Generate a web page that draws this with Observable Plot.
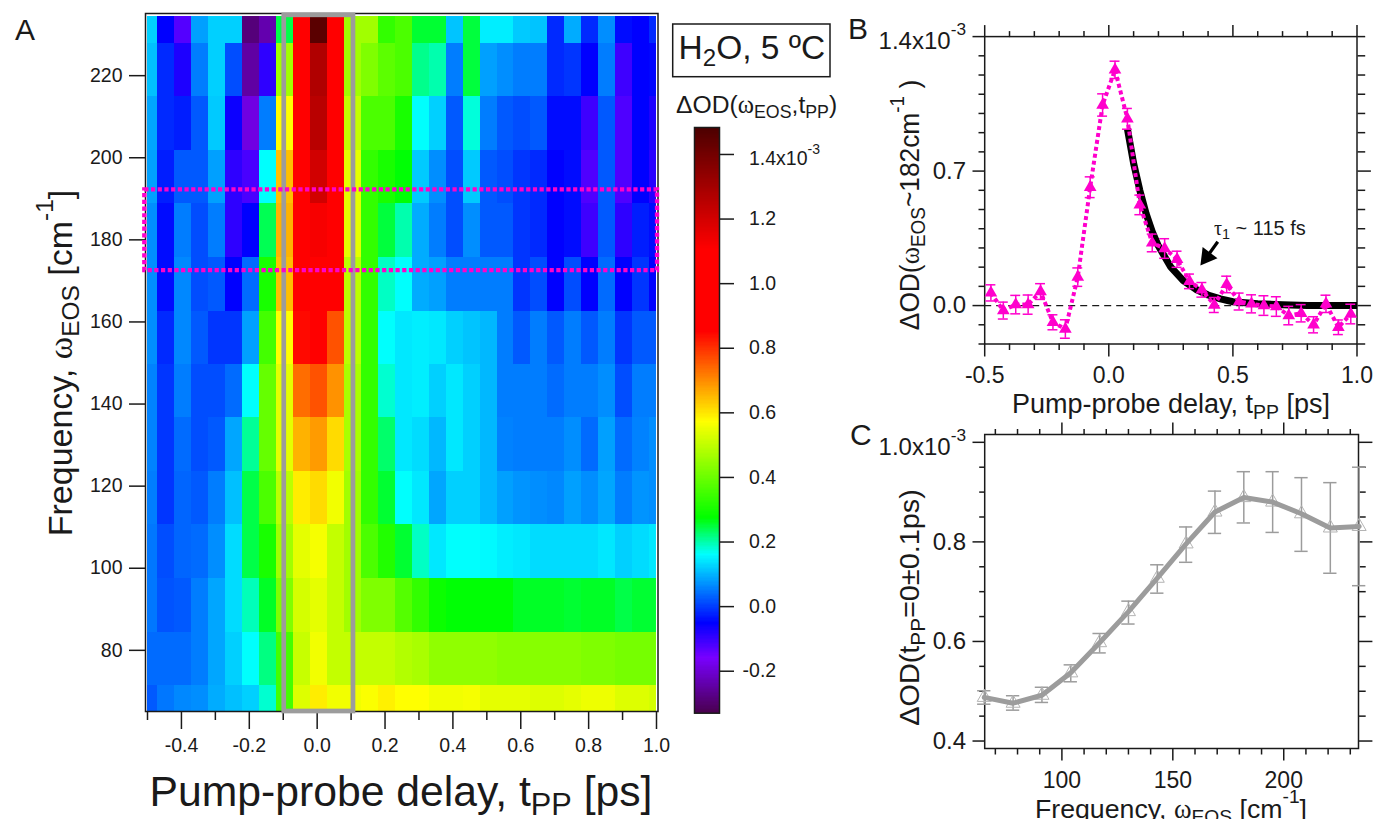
<!DOCTYPE html>
<html><head><meta charset="utf-8">
<script src="https://cdn.jsdelivr.net/npm/d3@7"></script>
<script src="https://cdn.jsdelivr.net/npm/@observablehq/plot@0.6"></script>
<style>
html,body{margin:0;padding:0;background:#fff;}
#page{position:relative;width:1376px;height:819px;overflow:hidden;background:#fff;}
#page svg{position:absolute;max-width:none;overflow:visible;}
</style></head><body><div id="page"></div>
<script>
// ---------- Panel A data (delay edges, frequency edges, one row per frequency, 1e-3 OD) ----------
const delayEdges=[-0.5,-0.47,-0.42,-0.37,-0.32,-0.27,-0.22,-0.17,-0.12,-0.07,-0.02,0.03,0.08,0.13,0.18,0.23,0.28,0.33,0.38,0.43,0.48,0.53,0.58,0.63,0.68,0.73,0.78,0.83,0.88,0.93,0.98,1.0];
const freqEdges=[234.4,227.8,214.9,201.7,188.8,175.7,162.5,149.6,136.7,123.6,110.7,97.5,84.4,71.5,65.1];
const row234=[.12,-.054,-.13,.08,.12,.12,-.29,-.24,.24,.95,1.45,1.0,.46,.46,.33,.36,.25,.25,.11,.245,.145,.145,.115,.11,-.02,.09,-.02,.065,-.045,-.054,-.02];
const row221=[.106,-.02,-.08,.05,.12,.01,-.25,-.095,.46,.95,1.27,1.0,.46,.42,.38,.36,.21,.195,.05,.245,.08,.065,.05,.05,-.02,-.01,-.054,.05,-.11,-.054,-.05];
const row208=[.085,-.02,-.03,.02,.115,-.065,-.19,.05,.57,.95,1.25,1.0,.50,.36,.36,.30,.16,.12,.02,.175,.05,.02,.01,.02,-.045,-.045,-.11,.02,-.125,-.054,-.08];
const row195=[.08,-.03,.02,.02,.08,-.095,-.12,.16,.64,.95,1.2,1.0,.54,.33,.30,.27,.115,.065,.01,.115,.02,.01,-.01,-.02,-.054,-.045,-.125,.02,-.125,-.054,-.09];
const row182=[.065,-.045,.05,.01,.05,-.095,-.054,.235,.655,.92,1.12,1.0,.54,.33,.245,.195,.09,.05,.01,.065,.02,.02,-.01,-.02,-.054,-.045,-.11,.02,-.095,-.03,-.045];
const row169=[.065,-.045,.06,.01,.02,-.054,.035,.30,.64,.95,1.0,.92,.49,.33,.185,.16,.09,.08,.05,.05,.05,.05,-.01,.01,-.054,.01,-.054,.035,-.054,-.01,-.054];
const row156=[.065,-.02,.06,.02,-.01,-.01,.08,.35,.57,.84,.90,.76,.49,.33,.16,.14,.145,.14,.12,.11,.10,.05,.02,.05,.02,.05,.02,.05,-.01,.02,.02];
const row143=[.055,-.01,.05,.01,.01,.035,.16,.39,.54,.73,.76,.69,.47,.33,.18,.14,.145,.12,.14,.12,.10,.05,.05,.05,.035,.05,.05,.065,.01,.05,.05];
const row130=[.055,-.01,.035,.01,.02,.085,.205,.39,.54,.655,.68,.61,.47,.33,.225,.14,.13,.10,.14,.12,.10,.055,.05,.05,.05,.065,.035,.08,.035,.055,.065];
const row117=[.05,-.01,.03,.02,.05,.106,.24,.36,.49,.59,.61,.555,.46,.33,.25,.16,.14,.085,.12,.12,.10,.08,.07,.065,.06,.08,.065,.085,.05,.07,.065];
const row104=[.045,.01,.03,.035,.065,.13,.24,.30,.46,.54,.56,.50,.46,.36,.31,.25,.185,.14,.16,.16,.155,.145,.14,.13,.13,.13,.13,.14,.12,.13,.14];
const row91=[.045,.015,.02,.05,.085,.13,.19,.255,.42,.52,.54,.50,.46,.42,.42,.37,.33,.285,.27,.27,.27,.27,.255,.255,.255,.25,.255,.255,.24,.25,.25];
const row78=[.035,.035,.035,.05,.085,.12,.16,.215,.35,.505,.555,.50,.50,.50,.50,.48,.47,.44,.44,.44,.44,.43,.43,.43,.43,.43,.42,.42,.41,.41,.41];
const row65=[.02,.045,.06,.065,.09,.106,.12,.18,.35,.53,.59,.555,.555,.565,.585,.57,.57,.555,.555,.56,.54,.54,.54,.53,.53,.54,.55,.55,.53,.53,.52];
const rows=[row234,row221,row208,row195,row182,row169,row156,row143,row130,row117,row104,row91,row78,row65];
// colour scale stops
const cStops=[-0.33,-0.162,-0.054,0.159,0.272,0.57,0.85,1.103,1.4835];
const cColors=["#4a0050","#7800ff","#0000ff","#00ffff","#00ff00","#ffff00","#ff0000","#ff0000","#4a0000"];
// gate boxes
const gateDelay=[-0.097,0.107], gateFreq=[65.1,234.7];
const bandDelay=[-0.508,1.003], bandFreq=[172.5,192.2];
// ---------- Panel B data ----------
const tB=[-.475,-.425,-.375,-.325,-.275,-.225,-.175,-.125,-.075,-.025,.025,.075,.125,.175,.225,.275,.325,.375,.425,.475,.525,.575,.625,.675,.725,.775,.825,.875,.925,.975];
const odB=[.066,-.026,.005,.005,.073,-.087,-.122,.148,.616,1.044,1.227,.972,.524,.326,.297,.241,.126,.082,.003,.11,.021,.009,0,-.005,-.052,-.04,-.10,.009,-.113,-.044];
const errB=[.042,.044,.048,.05,.041,.039,.048,.048,.054,.058,.045,.054,.051,.046,.051,.042,.038,.038,.039,.043,.044,.047,.051,.051,.048,.045,.042,.045,.038,.051];
const fitT=[.075,.1,.125,.15,.175,.2,.25,.3,.35,.4,.45,.5,.6,.7,.8,.9,1.0];
const fitOD=[.92,.74,.60,.48,.385,.31,.20,.13,.085,.055,.035,.02,.0095,.004,.001,0,0];
const arrowTail=[.439,.332], arrowHead=[.395,.253];
// ---------- Panel C data ----------
const fC=[65,78,91,104,117,130,143,156,169,182,195,208,221,234];
const odC=[.4877,.476,.492,.537,.5976,.66,.727,.796,.86,.889,.88,.8565,.828,.831];
const hiC=[.501,.491,.508,.553,.616,.681,.754,.83,.902,.941,.941,.929,.919,.95];
const loC=[.474,.462,.4775,.519,.577,.635,.697,.759,.817,.838,.819,.781,.737,.712];
// ticks
const aXMajor=[-.4,-.2,0,.2,.4,.6,.8,1], aXMinor=[-.5,-.3,-.1,.1,.3,.5,.7,.9], aYTicks=[80,100,120,140,160,180,200,220];
const bXMajor=[-.5,0,.5,1], bXMinor=[-.4,-.3,-.2,-.1,.1,.2,.3,.4,.6,.7,.8,.9];
const bYMajor=[0,.7,1.4], bYMinor=[-.2,-.1,.1,.2,.3,.4,.5,.6,.8,.9,1,1.1,1.2,1.3];
const cXMajor=[100,150,200], cXMinor=[70,80,90,110,120,130,140,160,170,180,190,210,220,230];
const cYMajor=[.4,.6,.8,1], cYMinor=[.45,.5,.55,.65,.7,.75,.85,.9,.95];
const barTicks=[-.2,0,.2,.4,.6,.8,1,1.2,1.4];

const PINK="#ff00cc", GREY="#9c9c9c", INK="#1a1a1a";
const SANS="'Liberation Sans',Arial,sans-serif", SERIF="'Liberation Serif',serif";
const fmt=d=>d.toFixed(1), fmt0=d=>String(d), none=()=>"";
const colorOpts={type:"linear",domain:cStops,range:cColors,interpolate:"rgb",clamp:true};
const svgStyle={background:"transparent",overflow:"visible",fontFamily:SANS};

// text helper: parts are [string, kind], kind in sub|sup|g (greek serif)
function label(parent,x,y,parts,size,anchor="start",rot=0,sx=1){
  const t=parent.append("text").attr("transform",`translate(${x},${y}) rotate(${rot}) scale(${sx},1)`)
    .attr("text-anchor",anchor).attr("font-size",size).attr("font-family",SANS).attr("fill",INK);
  let cur=0;
  for(const [s,kind] of parts){
    const target=kind==="sub"?size*.22:kind==="sup"?-size*.55:0;
    const sp=t.append("tspan").attr("dy",target-cur).text(s);
    if(kind==="sub"||kind==="sup") sp.attr("font-size",size*.72);
    if(kind==="g") sp.attr("font-family",SERIF);
    cur=target;
  }
}
function textMark(ox,oy,items,extra){
  return ()=>{
    const g=d3.create("svg:g");
    if(extra) extra(g);
    for(const it of items) label(g,it[0]-ox,it[1]-oy,it[2],it[3],it[4],it[5],it[6]);
    return g.node();
  };
}
function place(plot,ox,oy){plot.style.left=ox+"px";plot.style.top=oy+"px";document.getElementById("page").append(plot);}

// ---------- Panel A ----------
(function(){
  const ox=0,oy=0,W=680,H=819;
  const cells=[];
  rows.forEach((r,j)=>r.forEach((v,i)=>cells.push({x1:delayEdges[i],x2:delayEdges[i+1],y1:freqEdges[j+1],y2:freqEdges[j],v})));
  const p=Plot.plot({width:W,height:H,marginLeft:145,marginRight:W-657.5,marginTop:13,marginBottom:H-711,
    style:svgStyle,
    x:{domain:[-.5,1],range:[147,656],axis:null},y:{domain:[65.1,234.9],range:[711,14],axis:null},color:colorOpts,
    marks:[
      Plot.rect(cells,{x1:"x1",x2:"x2",y1:"y1",y2:"y2",fill:"v",shapeRendering:"crispEdges"}),
      Plot.frame({stroke:INK,strokeWidth:1.5}),
      Plot.axisX({anchor:"bottom",ticks:aXMinor,tickSize:9,tickFormat:none,label:null,strokeWidth:1.5,stroke:INK}),
      Plot.axisX({anchor:"bottom",ticks:aXMajor,tickSize:18,tickPadding:9,tickFormat:fmt,label:null,strokeWidth:1.5,stroke:INK,fontSize:19.5,fontFamily:SANS,fill:INK}),
      Plot.axisY({anchor:"left",ticks:aYTicks,tickSize:16,tickPadding:7,tickFormat:fmt0,label:null,strokeWidth:1.5,stroke:INK,fontSize:19.5,fontFamily:SANS,fill:INK}),
      Plot.rect([0],{x1:()=>gateDelay[0],x2:()=>gateDelay[1],y1:()=>gateFreq[0],y2:()=>gateFreq[1],fill:"none",stroke:GREY,strokeWidth:4.7}),
      Plot.rect([0],{x1:()=>bandDelay[0],x2:()=>bandDelay[1],y1:()=>bandFreq[0],y2:()=>bandFreq[1],fill:"none",stroke:PINK,strokeWidth:4.3,strokeDasharray:"4.2,2.5"}),
      textMark(ox,oy,[
        [15,40,[["A"]],30],
        [401,806,[["Pump-probe delay, t"],["PP","sub"],[" [ps]"]],42.7,"middle"],
        [72,363,[["Frequency, "],["ω","g"],["EOS","sub"],[" [cm"],["-1","sup"],["]"]],34,"middle",-90]
      ])
    ]});
  place(p,ox,oy);
})();

// ---------- Colour bar and sample box ----------
(function(){
  const ox=660,oy=0,W=190,H=730;
  const step=0.004, grad=d3.range(-0.33,1.4835,step).map(v=>({a:v,b:Math.min(v+step*1.2,1.4835)}));
  const p=Plot.plot({width:W,height:H,marginLeft:34,marginRight:W-59,marginTop:127,marginBottom:H-712.7,
    style:svgStyle,
    x:{domain:[0,1],axis:null},y:{domain:[-0.33,1.4835],axis:null},color:colorOpts,
    marks:[
      Plot.rect(grad,{x1:()=>0,x2:()=>1,y1:"a",y2:"b",fill:"a",shapeRendering:"crispEdges"}),
      Plot.frame({stroke:INK,strokeWidth:1.5}),
      Plot.axisY({anchor:"right",ticks:barTicks,tickSize:14,tickFormat:none,label:null,strokeWidth:1.5,stroke:INK}),
      Plot.text(barTicks.filter(d=>d!==1.4),{x:()=>1,y:d=>d,text:fmt,dx:56.7,textAnchor:"end",fontSize:19.5,fontFamily:SANS,fill:INK}),
      textMark(ox,oy,[
        [749,165,[["1.4x10"],["-3","sup"]],19.5],
        [678.5,59,[["H"],["2","sub"],["O, 5 ºC"]],33.5],
        [676,113,[["ΔOD("],["ω","g"],["EOS","sub"],[",t"],["PP","sub"],[")"]],24.7]
      ],g=>g.append("rect").attr("x",672.7-ox).attr("y",24-oy).attr("width",157.3).attr("height",52.7).attr("fill","#fff").attr("stroke",INK).attr("stroke-width",1.5))
    ]});
  place(p,ox,oy);
})();

// ---------- Panel B ----------
(function(){
  const ox=840,oy=0,W=536,H=430;
  const pts=tB.map((t,i)=>({t,v:odB[i],lo:odB[i]-errB[i],hi:odB[i]+errB[i]}));
  const fit=fitT.map((t,i)=>({t,v:fitOD[i]}));
  const tickBase={label:null,strokeWidth:1.5,stroke:INK,tickFormat:none};
  const p=Plot.plot({width:W,height:H,marginLeft:984.2-ox,marginRight:W-(1356.5-ox),marginTop:36.1,marginBottom:H-343.5,
    style:svgStyle,
    x:{domain:[-.5,1],axis:null},y:{domain:[-.2,1.4],axis:null},
    marks:[
      Plot.ruleY([0],{strokeDasharray:"7,5",stroke:INK,strokeWidth:1.3}),
      Plot.frame({stroke:INK,strokeWidth:1.5}),
      Plot.axisX({anchor:"bottom",ticks:bXMinor,tickSize:6.5,...tickBase}),
      Plot.axisX({anchor:"bottom",ticks:bXMajor,tickSize:13,tickPadding:10,...tickBase,tickFormat:fmt,fontSize:23,fontFamily:SANS,fill:INK}),
      Plot.axisX({anchor:"top",ticks:bXMinor,tickSize:6,...tickBase}),
      Plot.axisX({anchor:"top",ticks:bXMajor,tickSize:12,...tickBase}),
      Plot.axisY({anchor:"left",ticks:bYMinor,tickSize:5.7,...tickBase}),
      Plot.axisY({anchor:"left",ticks:bYMajor,tickSize:11.7,tickPadding:7,...tickBase,tickFormat:d=>d===1.4?"":fmt(d),fontSize:24,fontFamily:SANS,fill:INK}),
      Plot.axisY({anchor:"right",ticks:[...bYMinor,1.4],tickSize:7.7,...tickBase}),
      Plot.axisY({anchor:"right",ticks:[0,.7],tickSize:13.4,...tickBase}),
      Plot.line(fit,{x:"t",y:"v",stroke:"#000",strokeWidth:7,strokeLinecap:"butt"}),
      Plot.line(pts,{x:"t",y:"v",stroke:PINK,strokeWidth:4,strokeDasharray:"4,3",strokeLinecap:"butt"}),
      Plot.ruleX(pts,{x:"t",y1:"lo",y2:"hi",stroke:PINK,strokeWidth:1.5}),
      Plot.ruleY(pts,{y:"lo",x1:d=>d.t-.02,x2:d=>d.t+.02,stroke:PINK,strokeWidth:1.5}),
      Plot.ruleY(pts,{y:"hi",x1:d=>d.t-.02,x2:d=>d.t+.02,stroke:PINK,strokeWidth:1.5}),
      Plot.dot(pts,{x:"t",y:"v",symbol:"triangle",r:4.7,fill:PINK,stroke:"none"}),
      Plot.link([0],{x1:()=>arrowTail[0],y1:()=>arrowTail[1],x2:()=>arrowHead[0],y2:()=>arrowHead[1],stroke:"#000",strokeWidth:3.2}),
      Plot.dot([0],{x:()=>arrowHead[0],y:()=>arrowHead[1],symbol:"triangle",r:6.9,fill:"#000",stroke:"none",rotate:217}),
      textMark(ox,oy,[
        [848,38.5,[["B"]],30],
        [966,48.5,[["1.4x10"],["-3","sup"]],24,"end"],
        [1171,413,[["Pump-probe delay, t"],["PP","sub"],[" [ps]"]],27,"middle"],
        [919,205,[["ΔOD("],["ω","g"],["EOS","sub"],["~182cm"],["-1","sup"],[" )"]],28,"middle",-90,.94],
        [1214,234.7,[["τ","g"],["1","sub"],[" ~ 115 fs"]],20]
      ])
    ]});
  place(p,ox,oy);
})();

// ---------- Panel C ----------
(function(){
  const ox=840,oy=420,W=536,H=399;
  const pts=fC.map((f,i)=>({f,v:odC[i],lo:loC[i],hi:hiC[i]}));
  const tickBase={label:null,strokeWidth:1.5,stroke:INK,tickFormat:none};
  const p=Plot.plot({width:W,height:H,marginLeft:984.2-ox,marginRight:W-(1358-ox),marginTop:434-oy,marginBottom:oy+H-748,
    style:svgStyle,
    x:{domain:[65.2,233.7],axis:null},y:{domain:[.385,1.0157],axis:null},
    marks:[
      Plot.frame({stroke:INK,strokeWidth:1.5}),
      Plot.axisX({anchor:"bottom",ticks:cXMinor,tickSize:6.5,...tickBase}),
      Plot.axisX({anchor:"bottom",ticks:cXMajor,tickSize:12.5,tickPadding:11,...tickBase,tickFormat:fmt0,fontSize:23,fontFamily:SANS,fill:INK}),
      Plot.axisX({anchor:"top",ticks:cXMinor,tickSize:6,...tickBase}),
      Plot.axisX({anchor:"top",ticks:cXMajor,tickSize:12.5,...tickBase}),
      Plot.axisY({anchor:"left",ticks:cYMinor,tickSize:5,...tickBase}),
      Plot.axisY({anchor:"left",ticks:cYMajor,tickSize:11.7,tickPadding:7,...tickBase,tickFormat:d=>d===1?"":fmt(d),fontSize:24,fontFamily:SANS,fill:INK}),
      Plot.axisY({anchor:"right",ticks:cYMinor,tickSize:6.7,...tickBase}),
      Plot.axisY({anchor:"right",ticks:cYMajor,tickSize:13.4,...tickBase}),
      Plot.ruleX(pts,{x:"f",y1:"lo",y2:"hi",stroke:GREY,strokeWidth:1.5}),
      Plot.ruleY(pts,{y:"lo",x1:d=>d.f-3,x2:d=>d.f+3,stroke:GREY,strokeWidth:1.5}),
      Plot.ruleY(pts,{y:"hi",x1:d=>d.f-3,x2:d=>d.f+3,stroke:GREY,strokeWidth:1.5}),
      Plot.dot(pts,{x:"f",y:"v",symbol:"triangle",r:5.2,fill:"none",stroke:"#b4b4b4",strokeWidth:1}),
      Plot.line(pts,{x:"f",y:"v",stroke:GREY,strokeWidth:5}),
      textMark(ox,oy,[
        [850,445,[["C"]],30],
        [966,454.5,[["1.0x10"],["-3","sup"]],24,"end"],
        [1171,817.5,[["Frequency, "],["ω","g"],["EOS","sub"],[" [cm"],["-1","sup"],["]"]],26.7,"middle"],
        [919,607.5,[["ΔOD(t"],["PP","sub"],["=0±0.1ps)"]],28,"middle",-90,1.03]
      ])
    ]});
  place(p,ox,oy);
})();
</script>
</body></html>
